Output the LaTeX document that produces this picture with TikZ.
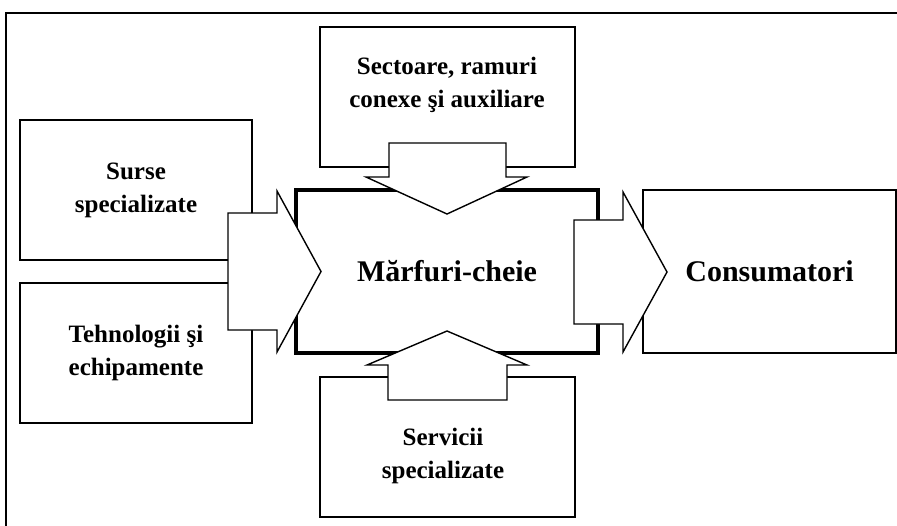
\documentclass[tikz,border=0pt]{standalone}
\usepackage{fontspec}
\setmainfont{Liberation Serif}
\usepackage{tikz}
\usetikzlibrary{positioning}

\begin{document}
\begin{tikzpicture}[
    x=0.5pt, y=-0.5pt,
    % Boxes
    box/.style={rectangle, draw=black, line width=1.4pt, fill=white, minimum width=127.5pt, minimum height=70pt, inner sep=0pt},
    sidebox/.style={box, minimum width=116pt, align=center, font=\bfseries\fontsize{12.5}{16.5}\selectfont},
    mainbox/.style={box, line width=1.9pt, minimum width=151pt, minimum height=81.5pt, font=\bfseries\fontsize{15}{18}\selectfont},
    endbox/.style={box, minimum width=126.5pt, minimum height=81.5pt, font=\bfseries\fontsize{15}{18}\selectfont},
    % Labels
    lbl/.style={align=center, inner sep=0pt, font=\bfseries\fontsize{12.5}{16.5}\selectfont},
    % Block arrows
    fatarrow/.style={draw=black, line width=0.7pt, fill=white, line join=miter}
]
\useasboundingbox (0,0) rectangle (897,525);
\clip (0,0) rectangle (897,525);

% Outer frame
\draw[line width=1.4pt] (6,13) rectangle (905,535);

% Boxes
\node[box] (sect) at (447.5,97) {};
\node[sidebox] (surse) at (136,190) {Surse\\specializate};
\node[sidebox] (tehno) at (136,353) {Tehnologii şi\\echipamente};
\node[mainbox] (marfuri) at (447,271.5) {Mărfuri-cheie};
\node[endbox] (cons) at (769.5,271.5) {Consumatori};
\node[box] (serv) at (447.5,447) {};

% Box texts
\node[lbl] (sectT) at (447,85) {Sectoare, ramuri\\conexe şi auxiliare};
\node[lbl] (servT) at (443,456) {Servicii\\specializate};

% Block arrows
\draw[fatarrow] (228,213) -- (277,213) -- (277,191) -- (321,271.5) -- (277,352) -- (277,330) -- (228,330) -- cycle;
\draw[fatarrow] (574,220) -- (623,220) -- (623,192) -- (667,272) -- (623,352) -- (623,324) -- (574,324) -- cycle;
\draw[fatarrow] (389,143) -- (506,143) -- (506,177) -- (527,177) -- (447,214) -- (366,177) -- (389,177) -- cycle;
\draw[fatarrow] (388,400) -- (507,400) -- (507,365) -- (527,365) -- (447,331) -- (367,365) -- (388,365) -- cycle;
\end{tikzpicture}
\end{document}
